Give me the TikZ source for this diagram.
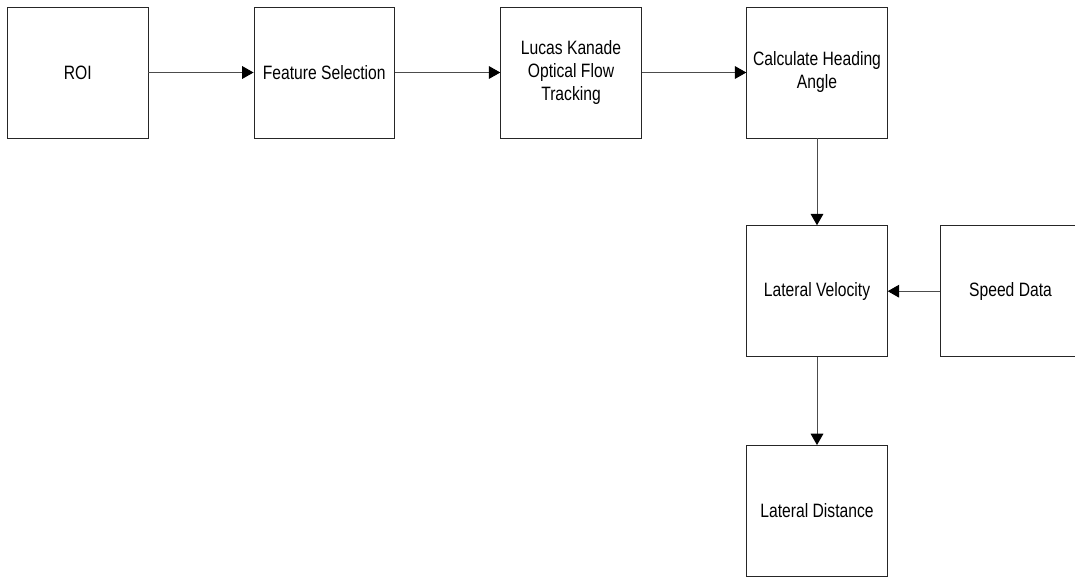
\documentclass[tikz,border=0pt]{standalone}
\usepackage{fontspec}
\setmainfont{Liberation Sans}[FakeStretch=0.81]
\usetikzlibrary{arrows.meta}
\begin{document}
\begin{tikzpicture}[x=0.75pt,y=-0.75pt,
  blk/.style={draw=black!85, line width=0.7pt, rectangle, minimum width=105.4pt, minimum height=98.25pt, inner sep=0pt, align=center, font=\fontsize{14.5pt}{17.25pt}\selectfont},
  conn/.style={draw=black!70, line width=0.75pt, -{Triangle[length=8.5pt,width=9.5pt,fill=black,color=black]}}]
\useasboundingbox (0,0) rectangle (1075,578);
\clip (0,0) rectangle (1075,578);
\node[blk] (roi) at (77.75,72.5) {ROI};
\node[blk] (fs) at (324.25,72.5) {Feature Selection};
\node[blk] (lk) at (571,72.5) {Lucas Kanade\\Optical Flow\\Tracking};
\node[blk] (ha) at (817,72.5) {Calculate Heading\\Angle};
\node[blk] (lv) at (817,291.2) {Lateral Velocity};
\node[blk] (sd) at (1010.5,291.2) {Speed Data};
\node[blk] (ld) at (817,511) {Lateral Distance};
\draw[conn] (roi) -- (fs);
\draw[conn] (fs) -- (lk);
\draw[conn] (lk) -- (ha);
\draw[conn] (ha) -- (lv);
\draw[conn] (sd) -- (lv);
\draw[conn] (lv) -- (ld);
\end{tikzpicture}
\end{document}
